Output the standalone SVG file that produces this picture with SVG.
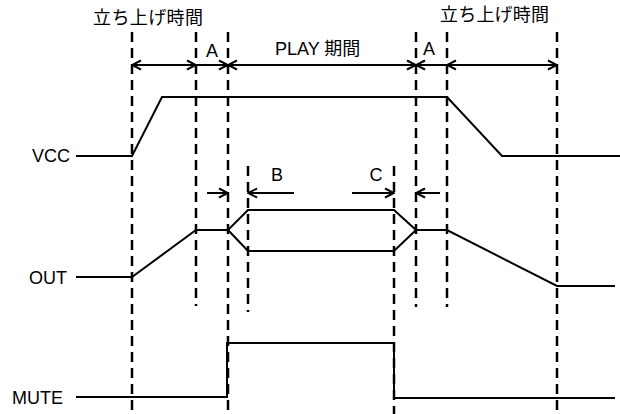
<svg xmlns="http://www.w3.org/2000/svg" width="620" height="414" viewBox="0 0 620 414">
<style>
.t{font-family:"Liberation Sans","Noto Sans CJK JP",sans-serif;font-size:18px;fill:#000}
.sig{fill:none;stroke:#000;stroke-width:2;stroke-linejoin:miter}
.dash{fill:none;stroke:#000;stroke-width:2.5;stroke-dasharray:10 6}
.arr{fill:none;stroke:#000;stroke-width:2}
</style>
<defs>
<marker id="ah" viewBox="-11 -6 12 12" refX="0" refY="0" markerWidth="12" markerHeight="12" markerUnits="userSpaceOnUse" orient="auto-start-reverse">
<path d="M-9,-4.5 L0,0 L-9,4.5" fill="none" stroke="#000" stroke-width="2"/>
</marker>
</defs>
<rect width="620" height="414" fill="#fff"/>
<g id="guides">
<line class="dash" x1="132" y1="32" x2="132" y2="414"/>
<line class="dash" x1="196" y1="32" x2="196" y2="306"/>
<line class="dash" x1="228" y1="32" x2="228" y2="414"/>
<line class="dash" x1="248" y1="166" x2="248" y2="312"/>
<line class="dash" x1="394" y1="166" x2="394" y2="414"/>
<line class="dash" x1="416" y1="32" x2="416" y2="307"/>
<line class="dash" x1="447" y1="32" x2="447" y2="307"/>
<line class="dash" x1="557" y1="32" x2="557" y2="414"/>
</g>
<g id="labels">
<text class="t" x="93" y="24" textLength="110">立ち上げ時間</text>
<text class="t" x="440" y="21" textLength="109">立ち上げ時間</text>
<text class="t" x="212" y="57" text-anchor="middle">A</text>
<text class="t" x="275" y="55">PLAY 期間</text>
<text class="t" x="429" y="55" text-anchor="middle">A</text>
<text class="t" x="277" y="181" text-anchor="middle">B</text>
<text class="t" x="376" y="181" text-anchor="middle">C</text>
</g>
<g id="VCC">
<text class="t" x="32" y="162">VCC</text>
<polyline class="sig" points="76,156 132,156 162,97 447,97 502,156 620,156"/>
</g>
<g id="OUT">
<text class="t" x="29" y="284">OUT</text>
<polyline class="sig" points="76,277 132,277 196,230 228,230 248,210 394,210 416,230 447,230 557,286 615,286"/>
<polyline class="sig" points="228,230 248,251 394,251 416,230"/>
</g>
<g id="MUTE">
<text class="t" x="12" y="404">MUTE</text>
<polyline class="sig" points="76,397 227,397 227,343 394,343 394,398 615,398"/>
</g>
<g id="connectors">
<line class="arr" x1="132" y1="65" x2="196" y2="65" marker-start="url(#ah)" marker-end="url(#ah)"/>
<line class="arr" x1="196" y1="65" x2="228" y2="65" marker-end="url(#ah)"/>
<line class="arr" x1="228" y1="65" x2="416" y2="65" marker-start="url(#ah)" marker-end="url(#ah)"/>
<line class="arr" x1="447" y1="65" x2="416" y2="65" marker-end="url(#ah)"/>
<line class="arr" x1="447" y1="65" x2="557" y2="65" marker-start="url(#ah)" marker-end="url(#ah)"/>
<line class="arr" x1="207" y1="193" x2="228" y2="193" marker-end="url(#ah)"/>
<line class="arr" x1="294" y1="193" x2="248" y2="193" marker-end="url(#ah)"/>
<line class="arr" x1="352" y1="193" x2="394" y2="193" marker-end="url(#ah)"/>
<line class="arr" x1="440" y1="193" x2="416" y2="193" marker-end="url(#ah)"/>
</g>
</svg>
